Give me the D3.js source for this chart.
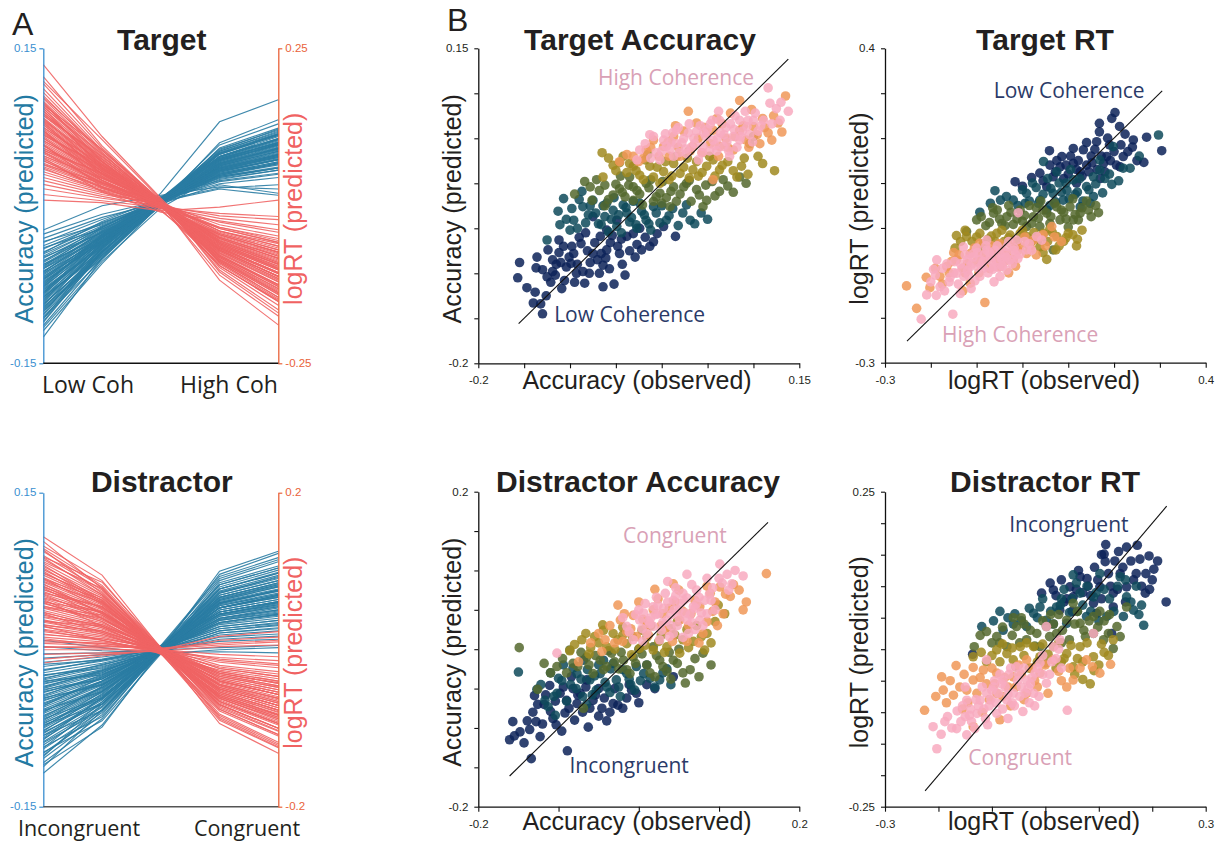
<!DOCTYPE html>
<html><head><meta charset="utf-8">
<script src="https://cdn.jsdelivr.net/npm/d3@7"></script>
<style>body{margin:0;background:#fff}svg{display:block}</style>
</head><body>
<svg id="fig" width="1222" height="842"></svg>
<script>
// ---------- Panel A: per-participant predicted effects across 5 levels ----------
const targetConds = ["Low Coh", "High Coh"];
const distractorConds = ["Incongruent", "Congruent"];
const tgtAccRange = [-0.15, 0.15];
const tgtRtRange = [-0.25, 0.25];
const disAccRange = [-0.15, 0.15];
const disRtRange = [-0.2, 0.2];

const tgtAccLines = [
[-.125,-.050,.004,.058,.078],[-.119,-.055,.002,.047,.066],[-.114,-.049,.006,.052,.070],[-.111,-.044,.005,.040,.055],
[-.108,-.040,.012,.080,.101],[-.106,-.047,.003,.049,.067],[-.104,-.045,.007,.044,.061],[-.101,-.043,.004,.054,.072],
[-.099,-.046,.002,.038,.052],[-.097,-.041,.006,.047,.064],[-.095,-.036,.002,.020,.012],[-.094,-.044,.005,.051,.069],
[-.092,-.040,.003,.042,.058],[-.091,-.038,.007,.046,.063],[-.089,-.041,.004,.036,.049],[-.088,-.035,.005,.049,.067],
[-.086,-.039,.003,.040,.055],[-.085,-.033,.004,.016,.010],[-.084,-.037,.006,.044,.060],[-.082,-.036,.002,.038,.052],
[-.081,-.034,.005,.047,.064],[-.079,-.038,.004,.041,.057],[-.078,-.032,.006,.035,.048],[-.077,-.035,.003,.043,.059],
[-.075,-.033,.005,.039,.053],[-.074,-.031,.004,.045,.062],[-.072,-.034,.006,.033,.045],[-.071,-.030,.003,.040,.055],
[-.069,-.032,.005,.037,.050],[-.068,-.029,.004,.043,.059],[-.066,-.031,.006,.031,.042],[-.065,-.028,.002,.038,.052],
[-.063,-.027,.005,.034,.046],[-.062,-.030,.004,.041,.056],[-.060,-.026,.006,.029,.039],[-.059,-.025,.003,.036,.049],
[-.057,-.027,.005,.032,.044],[-.056,-.024,.004,.039,.054],[-.054,-.023,.006,.027,.036],[-.052,-.025,.003,.034,.047],
[-.050,-.022,.005,.030,.041],[-.048,-.020,.004,.037,.051],[-.046,-.021,.006,.026,.034],[-.044,-.019,.003,.032,.044],
[-.041,-.017,.005,.023,.030],[-.038,-.016,.004,.029,.040],[-.035,-.013,.006,.021,.027],[-.031,-.011,.003,.025,.034],
[-.027,-.008,.005,.017,.020],[-.023,.000,.010,.018,.016],[-.116,-.053,-.002,.030,.040],[-.100,-.048,.001,.055,.074],
[-.083,-.030,.008,.028,.036],[-.070,-.036,.002,.050,.068],[-.058,-.021,.008,.045,.060],[-.093,-.047,.000,.033,.044],
[-.076,-.027,.009,.024,.031],[-.064,-.033,.001,.052,.071],[-.110,-.042,.007,.035,.047],[-.087,-.043,.001,.060,.082],
[-.107,-.051,.003,.045,.060],[-.103,-.039,.006,.036,.048],[-.098,-.044,.004,.050,.068],[-.096,-.050,.001,.043,.058],
[-.090,-.037,.007,.053,.073],[-.087,-.045,.003,.034,.046],[-.083,-.036,.005,.046,.063],[-.080,-.040,.002,.040,.054],
[-.077,-.029,.007,.050,.068],[-.073,-.033,.003,.030,.041],[-.070,-.028,.006,.044,.060],[-.067,-.035,.002,.036,.049],
[-.063,-.024,.007,.047,.064],[-.060,-.030,.003,.028,.037],[-.056,-.029,.004,.042,.058],[-.053,-.020,.006,.035,.047],
[-.049,-.026,.002,.031,.042],[-.045,-.015,.007,.040,.055],[-.040,-.022,.003,.027,.036],[-.034,-.018,.004,.033,.044]
];
const tgtRtLines = [
[.224,.110,.012,-.080,-.125],[.205,.095,.006,-.070,-.112],[.194,.092,.004,-.095,-.150],[.186,.088,.008,-.060,-.098],
[.180,.085,.002,-.110,-.175],[.175,.083,.005,-.075,-.120],[.170,.080,.001,-.088,-.140],[.166,.078,.007,-.055,-.088],
[.162,.076,.003,-.082,-.131],[.158,.074,.004,-.118,-.189],[.154,.072,-.002,-.068,-.108],[.150,.070,.006,-.090,-.145],
[.147,.069,.002,-.062,-.100],[.144,.067,.005,-.078,-.126],[.140,.066,.001,-.050,-.080],[.137,.064,.004,-.085,-.136],
[.134,.062,.003,-.070,-.112],[.131,.061,.006,-.058,-.093],[.128,.060,-.001,-.095,-.152],[.125,.058,.003,-.066,-.106],
[.122,.057,.005,-.074,-.118],[.119,.055,.000,-.048,-.076],[.116,.054,.004,-.080,-.128],[.113,.052,.002,-.060,-.096],
[.110,.051,.006,-.070,-.112],[.107,.050,-.002,-.054,-.086],[.104,.048,.003,-.088,-.141],[.101,.047,.001,-.064,-.102],
[.098,.045,.005,-.044,-.070],[.095,.044,.002,-.076,-.121],[.092,.043,.004,-.058,-.092],[.089,.041,-.001,-.068,-.108],
[.086,.040,.003,-.040,-.064],[.083,.038,.001,-.062,-.099],[.080,.037,.005,-.052,-.083],[.077,.036,.002,-.072,-.115],
[.074,.034,-.003,-.046,-.073],[.071,.033,.004,-.056,-.090],[.068,.031,.000,-.036,-.058],[.065,.030,.003,-.064,-.102],
[.062,.029,-.002,-.042,-.067],[.058,.027,.002,-.050,-.080],[.054,.025,.004,-.030,-.048],[.050,.023,-.004,-.044,-.070],
[.045,.021,.001,-.026,-.042],[.040,.018,.003,-.036,-.058],[.034,.015,-.002,-.020,-.030],[.027,.012,.000,-.016,-.022],
[.018,.008,-.003,-.012,-.017],[.009,.005,-.008,-.002,.009],[.198,.105,.010,-.098,-.158],[.160,.090,.009,-.102,-.165],
[.143,.078,.007,-.040,-.060],[.120,.040,-.006,-.092,-.148],[.097,.030,-.008,-.082,-.132],[.133,.050,-.004,-.034,-.052],
[.155,.060,.000,-.050,-.078],[.088,.052,.008,-.086,-.138],[.112,.064,.010,-.105,-.170],[.076,.022,-.010,-.024,-.038],
[.172,.088,.004,-.072,-.116],[.164,.070,.001,-.090,-.145],[.157,.082,.006,-.060,-.096],[.151,.064,.000,-.080,-.128],
[.146,.074,.005,-.095,-.152],[.139,.058,.002,-.066,-.106],[.135,.070,.006,-.084,-.134],[.129,.054,.000,-.056,-.090],
[.124,.066,.004,-.078,-.125],[.118,.050,.001,-.062,-.100],[.114,.060,.005,-.086,-.138],[.108,.046,-.001,-.052,-.084],
[.103,.056,.004,-.070,-.112],[.096,.040,.000,-.046,-.074],[.091,.050,.003,-.066,-.106],[.085,.036,-.002,-.058,-.093],
[.079,.044,.004,-.040,-.064],[.072,.028,.001,-.052,-.083],[.066,.036,.003,-.034,-.055],[.060,.024,-.001,-.046,-.074]
];
const disAccLines = [
[-.118,-.072,-.002,.060,.076],[-.110,-.074,.000,.072,.092],[-.104,-.062,.002,.050,.064],[-.099,-.060,-.003,.058,.073],
[-.095,-.058,.001,.045,.057],[-.091,-.055,-.001,.066,.084],[-.088,-.054,.002,.052,.066],[-.085,-.052,-.002,.040,.050],
[-.082,-.050,.000,.056,.071],[-.080,-.048,.003,.047,.060],[-.077,-.047,-.001,.034,.043],[-.075,-.045,.001,.052,.066],
[-.073,-.044,-.003,.043,.054],[-.071,-.043,.002,.058,.073],[-.069,-.041,.000,.038,.048],[-.067,-.040,-.002,.049,.062],
[-.065,-.039,.001,.030,.038],[-.063,-.038,.003,.045,.057],[-.061,-.037,-.001,.054,.068],[-.059,-.036,.000,.036,.045],
[-.057,-.034,.002,.042,.053],[-.055,-.033,-.002,.026,.033],[-.053,-.032,.001,.047,.060],[-.051,-.031,.000,.033,.042],
[-.049,-.030,-.003,.040,.051],[-.047,-.028,.002,.022,.028],[-.045,-.027,.000,.036,.046],[-.043,-.026,-.001,.044,.056],
[-.041,-.025,.001,.029,.037],[-.039,-.023,-.002,.038,.048],[-.037,-.022,.002,.020,.025],[-.035,-.021,.000,.032,.041],
[-.033,-.020,-.001,.025,.032],[-.031,-.019,.001,.036,.046],[-.029,-.017,.000,.018,.023],[-.027,-.016,-.002,.028,.035],
[-.025,-.015,.001,.014,.018],[-.022,-.013,.000,.024,.030],[-.019,-.011,-.001,.010,.013],[-.016,-.009,.001,.020,.026],
[-.012,-.007,.000,.008,.010],[-.008,-.005,-.002,.012,.015],[-.004,-.003,.000,.002,.004],[.003,-.001,-.003,-.002,-.003],
[.009,.002,-.004,.000,.002],[-.112,-.058,.003,.040,.052],[-.098,-.068,-.004,.064,.080],[-.086,-.046,.004,.070,.088],
[-.072,-.052,-.003,.030,.040],[-.060,-.030,.003,.062,.078],[-.093,-.064,-.001,.075,.094],[-.078,-.042,.002,.026,.034],
[-.066,-.046,-.002,.054,.070],[-.054,-.026,.002,.050,.064],[-.046,-.034,-.003,.016,.021],[-.038,-.028,.001,.046,.058],
[-.102,-.052,.004,.034,.045],[-.082,-.058,-.003,.044,.056],[-.030,-.024,-.001,.040,.052],[-.068,-.035,.003,.068,.086],
[-.108,-.066,.001,.048,.061],[-.101,-.057,-.002,.062,.078],[-.094,-.050,.002,.040,.052],[-.089,-.058,-.001,.055,.069],
[-.084,-.046,.003,.036,.046],[-.079,-.052,-.002,.050,.063],[-.074,-.040,.001,.044,.057],[-.070,-.047,-.003,.032,.041],
[-.064,-.036,.002,.058,.074],[-.058,-.040,-.001,.040,.050],[-.052,-.030,.001,.048,.062],[-.048,-.033,-.002,.028,.036],
[-.044,-.024,.002,.042,.053],[-.040,-.028,.000,.034,.044],[-.036,-.020,-.001,.030,.038],[-.032,-.022,.001,.022,.028],
[-.028,-.014,-.002,.034,.043],[-.024,-.018,.000,.018,.024],[-.020,-.010,.001,.026,.034],[-.014,-.010,-.001,.016,.020]
];
const disRtLines = [
[.144,.095,.002,-.070,-.100],[.132,.088,.000,-.082,-.118],[.125,.080,-.003,-.060,-.086],[.120,.076,.001,-.094,-.132],
[.115,.074,-.002,-.066,-.094],[.110,.070,.003,-.052,-.074],[.106,.068,-.004,-.076,-.108],[.102,.066,.000,-.058,-.083],
[.098,.063,-.001,-.070,-.100],[.095,.061,.002,-.046,-.066],[.092,.059,-.003,-.064,-.092],[.089,.057,.000,-.054,-.077],
[.086,.055,-.002,-.072,-.103],[.083,.053,.001,-.040,-.057],[.080,.051,-.004,-.060,-.086],[.077,.049,.000,-.050,-.071],
[.074,.048,-.001,-.066,-.094],[.071,.046,.002,-.036,-.051],[.068,.044,-.003,-.056,-.080],[.065,.042,.000,-.045,-.064],
[.062,.040,-.002,-.062,-.088],[.059,.038,.001,-.032,-.046],[.056,.036,-.004,-.050,-.071],[.053,.034,.000,-.040,-.057],
[.050,.032,-.001,-.058,-.083],[.047,.030,.002,-.028,-.040],[.044,.028,-.003,-.046,-.066],[.041,.026,.000,-.036,-.051],
[.038,.024,-.002,-.052,-.074],[.035,.022,.001,-.024,-.034],[.032,.020,-.004,-.042,-.060],[.029,.018,.000,-.032,-.046],
[.026,.016,-.001,-.048,-.068],[.023,.014,.002,-.020,-.028],[.020,.012,-.003,-.038,-.054],[.016,.010,.000,-.028,-.040],
[.012,.008,-.002,-.016,-.023],[.008,.005,.001,-.024,-.034],[.004,.002,-.003,-.010,-.014],[.000,.000,.000,-.006,-.009],
[-.006,-.004,-.002,.004,.006],[-.012,-.006,-.001,.012,.016],[-.017,-.008,.000,.017,.023],[.003,.004,.002,.008,.012],
[.010,.008,.001,.006,.010],[.138,.078,-.004,-.090,-.125],[.118,.086,.003,-.044,-.062],[.100,.058,-.005,-.084,-.120],
[.090,.064,.002,-.030,-.042],[.079,.040,-.005,-.078,-.110],[.072,.055,.003,-.068,-.096],[.064,.030,-.006,-.026,-.037],
[.055,.044,.002,-.062,-.090],[.046,.022,-.004,-.056,-.079],[.036,.030,.001,-.014,-.020],[.108,.062,-.002,-.038,-.054],
[.084,.046,.000,-.088,-.124],[.061,.048,.003,-.070,-.100],[.127,.072,-.001,-.048,-.068],[.030,.012,-.005,-.060,-.084],
[.129,.082,.001,-.074,-.104],[.117,.070,-.003,-.058,-.082],[.112,.078,.002,-.086,-.122],[.104,.060,-.001,-.050,-.071],
[.097,.066,.002,-.076,-.108],[.091,.052,-.003,-.044,-.062],[.087,.060,.001,-.066,-.094],[.081,.046,-.002,-.054,-.077],
[.076,.054,.002,-.040,-.057],[.070,.040,-.001,-.062,-.088],[.066,.048,.001,-.034,-.048],[.060,.036,-.003,-.050,-.071],
[.054,.040,.002,-.044,-.062],[.048,.028,-.001,-.030,-.043],[.042,.032,.001,-.054,-.077],[.037,.020,-.002,-.022,-.031],
[.031,.024,.000,-.040,-.057],[.025,.012,-.002,-.030,-.043],[.019,.014,.001,-.012,-.018],[.014,.006,-.001,-.034,-.048]
];

// ---------- Panel B: observed vs predicted, one array per condition level ([observed, predicted]) ----------
const taTicksX = [-0.2,-0.15,-0.1,-0.05,0,0.05,0.1,0.15];
const taTicksY = [-0.2,-0.15,-0.1,-0.05,0,0.05,0.1,0.15];
const trTicksX = [-0.3,-0.2,-0.1,0,0.1,0.2,0.3,0.4];
const trTicksY = [-0.3,-0.2,-0.1,0,0.1,0.2,0.3,0.4];
const daTicksX = [-0.2,-0.1,0,0.1,0.2];
const daTicksY = [-0.2,-0.15,-0.1,-0.05,0,0.05,0.1,0.15,0.2];
const drTicksX = [-0.3,-0.2,-0.1,0,0.1,0.2,0.3];
const drTicksY = [-0.25,-0.2,-0.15,-0.1,-0.05,0,0.05,0.1,0.15,0.2,0.25];

const taL1 = [[-.157,-.105],[-.155,-.088],[-.147,-.116],[-.138,-.121],[-.140,-.133],[-.132,-.134],[-.130,-.145],[-.126,-.125],[-.137,-.094],[-.136,-.082],[-.125,-.104],[-.124,-.074],[-.119,-.085],[-.116,-.102],[-.109,-.117],[-.107,-.070],[-.104,-.093],[-.096,-.078],[-.093,-.100],[-.084,-.111],[-.079,-.100],[-.075,-.078],[-.067,-.059],[-.064,-.091],[-.064,-.115],[-.052,-.112],[-.060,-.074],[-.046,-.078],[-.038,-.059],[-.031,-.056],[-.022,-.074],[-.009,-.065],[-.005,-.056],[.015,-.059],[-.049,-.041],[-.075,-.037],[-.112,-.063],[-.099,-.089],[-.088,-.067],[-.070,-.085],[-.056,-.066],[-.043,-.090],[-.027,-.068],[-.018,-.060],[-.130,-.096],
[-.121,-.110],[-.115,-.090],[-.112,-.077],[-.106,-.108],[-.101,-.082],[-.098,-.070],[-.092,-.090],[-.090,-.060],[-.086,-.098],[-.081,-.075],[-.078,-.088],[-.073,-.066],[-.068,-.100],[-.066,-.078],[-.061,-.083],[-.057,-.095],[-.054,-.058],[-.048,-.070],[-.044,-.062],[-.040,-.102],[-.035,-.075],[-.029,-.082],[-.024,-.050],[-.013,-.070],[.002,-.048],[-.095,-.110],[-.119,-.098],[-.083,-.055],[-.110,-.088],[-.060,-.052]];
const taL2 = [[-.111,-.046],[-.107,-.017],[-.113,-.031],[-.086,-.026],[-.075,-.019],[-.062,-.037],[-.053,-.030],[-.038,-.033],[-.031,-.020],[-.017,-.041],[-.009,-.026],[-.002,-.044],[.005,-.041],[.023,-.033],[.043,-.033],[.031,-.041],[-.049,-.048],[-.027,-.050],[-.125,-.063],[-.096,-.041],[-.087,-.009],[-.069,-.045],[-.058,-.054],[-.042,-.024],[-.022,-.031],[.012,-.028],[-.100,-.052],[-.080,-.035],[-.035,-.043],[-.012,-.052],[.018,-.047],[-.064,-.025],
[-.104,-.040],[-.098,-.028],[-.092,-.050],[-.083,-.044],[-.078,-.025],[-.072,-.033],[-.066,-.046],[-.060,-.022],[-.055,-.040],[-.047,-.035],[-.044,-.055],[-.039,-.027],[-.033,-.038],[-.028,-.046],[-.024,-.022],[-.019,-.035],[-.014,-.045],[-.006,-.033],[.000,-.025],[.008,-.036],[.027,-.024],[.036,-.045],[-.090,-.018],[-.052,-.016],[.050,-.040]];
const taL3 = [[-.084,.002],[-.076,-.019],[-.062,-.002],[-.046,-.006],[-.031,-.004],[-.017,.000],[-.002,-.011],[.013,-.004],[.027,.000],[.038,-.007],[.049,-.019],[.063,-.009],[.045,-.026],[.009,-.026],[-.009,-.020],[-.031,-.019],[-.053,-.013],[.085,.007],[-.035,.007],[-.068,-.008],[-.024,-.012],[.005,-.016],[.020,-.012],[.055,.002],[.072,-.003],[-.040,-.015],[.032,-.020],[-.012,.004],[-.095,-.012],
[-.078,-.004],[-.071,.004],[-.058,-.018],[-.050,-.001],[-.043,-.010],[-.036,-.002],[-.027,-.008],[-.021,-.024],[-.014,-.005],[-.006,-.015],[.001,.002],[.010,-.009],[.016,-.020],[.024,-.004],[.030,.003],[.041,-.013],[.048,-.002],[.058,-.014],[.067,.004],[.078,-.010],[-.062,-.025],[.000,-.022],[-.045,.008],[.092,.000]];
const taL4 = [[-.065,.034],[-.053,.020],[-.046,.023],[-.064,.007],[-.031,.019],[-.024,.009],[-.009,.007],[.002,.013],[.020,.011],[.034,.015],[.049,.019],[.063,.015],[.082,.007],[.087,.019],[.123,.014],[.096,.044],[.100,.052],[.013,.022],[-.013,.019],[.056,.026],[-.038,.012],[.008,.004],[.040,.008],[.072,.024],[-.018,.026],[.028,.028],[.105,.030],
[-.058,.028],[-.050,.014],[-.042,.030],[-.035,.022],[-.028,.014],[-.020,.004],[-.015,.032],[-.005,.018],[.004,.024],[.011,.008],[.016,.030],[.024,.018],[.030,.006],[.038,.024],[.044,.012],[.052,.030],[.058,.008],[.066,.020],[.078,.014],[.090,.028],[.094,.010],[.110,.022],[-.002,.000],[.030,.036]];
const taL5 = [[-.046,.024],[-.031,.030],[-.017,.037],[-.009,.048],[.002,.041],[.013,.052],[.029,.080],[.038,.067],[.049,.056],[.056,.059],[.063,.041],[.078,.037],[.085,.092],[.085,.059],[.100,.063],[.107,.044],[.116,.056],[.127,.067],[.135,.097],[.056,.004],[.131,.057],[.020,.030],[.034,.041],[.070,.050],[.092,.048],[.044,.034],[-.025,.024],[.008,.030],[.060,.072],[.110,.072],
[-.038,.032],[-.020,.028],[-.012,.040],[-.003,.030],[.007,.046],[.018,.040],[.024,.058],[.031,.036],[.040,.050],[.047,.062],[.053,.044],[.066,.066],[.072,.040],[.080,.052],[.089,.064],[.095,.040],[.104,.054],[.112,.062],[.120,.048],[.122,.075],[.062,.030],[.015,.064],[.098,.082],[.075,.078]];
const taL6 = [[.116,.106],[.138,.080],[.129,.070],[.091,.080],[.085,.070],[.063,.070],[.029,.056],[.016,.059],[-.009,.052],[-.013,.054],[.005,.041],[.013,.030],[.027,.033],[.045,.041],[.056,.048],[.067,.041],[.078,.052],[.093,.063],[.100,.070],[.111,.070],[.040,.026],[-.002,.026],[-.027,.026],[-.024,.037],[.074,.030],[.118,.089],[.035,.050],[.050,.060],[.022,.045],[.060,.036],[.085,.048],[.105,.058],[.070,.062],[.000,.036],[.042,.064],[.125,.083],
[-.018,.044],[-.006,.034],[.002,.048],[.009,.038],[.012,.056],[.019,.034],[.024,.050],[.032,.040],[.038,.058],[.044,.034],[.048,.052],[.053,.066],[.058,.042],[.064,.056],[.071,.046],[.075,.066],[.082,.040],[.088,.058],[.096,.054],[.102,.078],[.108,.064],[.120,.066],[.130,.090],[.080,.075],[.030,.066],[.062,.080],[-.012,.028],[.016,.044],
[.004,.055],[.018,.062],[.026,.038],[.036,.044],[.046,.056],[.052,.036],[.061,.050],[.068,.054],[.073,.036],[.079,.060],[.086,.052],[.094,.070],[.099,.046],[.010,.046],[.055,.070]];

const trL1 = [[.202,.257],[.195,.244],[.168,.233],[.168,.214],[.212,.226],[.224,.209],[.242,.196],[.271,.202],[.304,.172],[.265,.146],[.162,.192],[.133,.174],[.111,.177],[.086,.159],[.059,.172],[.111,.144],[.126,.125],[.067,.114],[.038,.122],[.020,.112],[.000,.093],[-.016,.103],[.184,.159],[.220,.159],[.177,.144],[.082,.136],[.053,.092],[.213,.136],[.150,.160],[.100,.120],[.140,.140],[.240,.180],[.190,.185],[.075,.150],
[.072,.125],[.090,.110],[.095,.140],[.105,.160],[.118,.130],[.122,.150],[.130,.115],[.145,.125],[.152,.145],[.158,.175],[.163,.130],[.172,.160],[.180,.125],[.186,.200],[.192,.150],[.200,.170],[.205,.140],[.230,.170],[.250,.150],[.060,.140],[.045,.105],[.140,.190],[.215,.185],[.118,.100],[.170,.110]];
const trL2 = [[-.060,.083],[-.048,.062],[-.093,.035],[-.020,.062],[.009,.077],[.038,.062],[.067,.077],[.097,.084],[.111,.107],[.140,.092],[.155,.114],[.169,.129],[.195,.097],[.220,.133],[.235,.133],[.148,.055],[.126,.047],[.089,.062],[.053,.040],[.006,.055],[.046,.148],[.198,.181],[.169,.151],[.297,.207],[.080,.100],[.120,.080],[.030,.090],[.180,.110],[.255,.160],[.060,.050],
[-.035,.070],[-.010,.050],[.000,.085],[.015,.060],[.022,.100],[.045,.075],[.055,.110],[.062,.088],[.072,.058],[.085,.080],[.095,.100],[.102,.065],[.115,.075],[.125,.110],[.132,.060],[.145,.085],[.160,.098],[.175,.078],[.190,.120],[.210,.105],[.035,.055],[.105,.130],[.075,.125],[.155,.070],[-.070,.055]];
const trL3 = [[-.100,.018],[-.063,.033],[-.034,.025],[-.005,.040],[.024,.025],[.053,.033],[.082,.018],[.111,.018],[.126,.033],[.144,.040],[.166,.034],[.038,.003],[.009,.003],[.075,.047],[.104,.047],[.122,.018],[-.122,-.008],[.067,-.049],[-.080,.005],[-.045,.010],[.000,.015],[.030,.045],[.090,.035],[.060,.010],[.140,.060],[-.020,.008],[.100,.002],
[-.090,.025],[-.072,.012],[-.055,.040],[-.050,.020],[-.038,.005],[-.025,.035],[-.012,.020],[.005,.028],[.015,.050],[.020,.010],[.035,.022],[.045,.040],[.062,.025],[.070,.055],[.085,.040],[.095,.020],[.115,.030],[.130,.045],[.150,.025],[.040,.060],[-.030,.050],[.110,.065],[-.065,.045],[.160,.050]];
const trL4 = [[-.144,-.017],[-.122,-.019],[-.147,-.045],[-.093,-.012],[-.056,-.012],[-.027,-.016],[.009,-.019],[.046,-.012],[.075,-.019],[.100,-.012],[.118,-.040],[.053,-.070],[.073,-.049],[.038,-.042],[-.020,-.042],[-.063,-.057],[-.110,-.030],[-.040,-.030],[.020,-.030],[.090,-.030],[-.075,-.025],[.000,-.005],[.060,-.002],[.130,-.005],
[-.135,-.030],[-.125,-.005],[-.100,-.020],[-.085,-.035],[-.068,-.018],[-.050,-.040],[-.045,-.005],[-.030,-.022],[-.012,-.030],[-.005,-.012],[.015,-.040],[.025,-.010],[.035,-.025],[.055,-.030],[.065,-.010],[.080,-.040],[.095,-.022],[.110,-.015],[-.090,-.050],[.045,-.055],[-.060,-.030],[.120,-.025]];
const trL5 = [[-.253,-.129],[-.231,-.179],[-.202,-.133],[-.165,-.086],[-.144,-.071],[-.114,-.057],[-.082,-.166],[-.093,-.034],[-.063,-.049],[-.034,-.057],[-.005,-.042],[.024,-.027],[.038,-.019],[.064,.003],[.009,-.057],[-.049,-.086],[-.114,-.123],[-.020,-.071],[-.180,-.108],[-.078,-.071],[-.130,-.090],[-.100,-.075],[-.050,-.035],[.010,-.035],[.050,-.040],[-.150,-.055],[.085,-.030],[-.030,-.100],
[-.190,-.090],[-.175,-.125],[-.160,-.100],[-.155,-.075],[-.138,-.060],[-.125,-.100],[-.120,-.080],[-.105,-.045],[-.095,-.100],[-.088,-.060],[-.072,-.090],[-.068,-.040],[-.058,-.070],[-.045,-.050],[-.040,-.075],[-.025,-.035],[-.015,-.085],[-.010,-.050],[.005,-.020],[.018,-.045],[.030,-.060],[.045,-.015],[-.210,-.110],[.070,-.020],[-.130,-.140]];
const trL6 = [[-.221,-.203],[-.209,-.149],[-.187,-.071],[-.194,-.092],[-.180,-.131],[-.152,-.192],[-.136,-.146],[-.114,-.086],[-.107,-.057],[-.093,-.071],[-.078,-.049],[-.063,-.086],[-.049,-.057],[-.034,-.042],[-.027,-.071],[-.013,-.027],[-.009,.034],[.009,-.049],[.031,-.019],[.042,-.027],[-.129,-.042],[-.144,-.101],[-.093,-.108],[-.049,-.108],[-.078,-.027],[-.034,-.094],[-.160,-.120],[-.120,-.070],[-.070,-.065],[-.100,-.045],[-.055,-.040],[-.015,-.060],[.015,-.035],[-.085,-.090],[-.165,-.080],[-.040,-.075],
[-.200,-.120],[-.190,-.105],[-.175,-.090],[-.170,-.140],[-.158,-.110],[-.148,-.075],[-.140,-.125],[-.132,-.090],[-.125,-.060],[-.118,-.105],[-.110,-.080],[-.104,-.118],[-.098,-.055],[-.090,-.085],[-.083,-.060],[-.075,-.100],[-.068,-.075],[-.060,-.050],[-.052,-.088],[-.046,-.068],[-.038,-.055],[-.030,-.030],[-.022,-.080],[-.018,-.045],[-.005,-.058],[.005,-.030],[.020,-.050],[-.112,-.135],[-.188,-.150],[-.062,-.120],
[-.150,-.100],[-.135,-.080],[-.120,-.095],[-.108,-.065],[-.096,-.090],[-.086,-.075],[-.072,-.055],[-.065,-.092],[-.056,-.070],[-.044,-.085],[-.035,-.065],[-.020,-.050],[-.010,-.068],[-.128,-.108],[-.080,-.040]];

const daL1 = [[-.161,-.115],[-.155,-.110],[-.157,-.092],[-.143,-.119],[-.134,-.139],[-.139,-.091],[-.128,-.092],[-.130,-.059],[-.123,-.111],[-.111,-.046],[-.110,-.079],[-.103,-.096],[-.089,-.129],[-.092,-.081],[-.090,-.065],[-.084,-.035],[-.073,-.056],[-.063,-.099],[-.057,-.065],[-.046,-.075],[-.040,-.091],[-.032,-.069],[-.026,-.071],[-.009,-.052],[-.003,-.056],[.043,-.035],[-.065,-.039],[-.077,-.069],[-.098,-.056],[-.118,-.070],[-.050,-.050],[-.015,-.062],[.010,-.045],[-.082,-.050],
[-.136,-.102],[-.132,-.080],[-.126,-.070],[-.120,-.095],[-.116,-.058],[-.107,-.088],[-.104,-.066],[-.096,-.104],[-.094,-.048],[-.087,-.075],[-.080,-.090],[-.076,-.058],[-.070,-.080],[-.066,-.048],[-.061,-.075],[-.054,-.058],[-.050,-.085],[-.043,-.062],[-.036,-.080],[-.030,-.050],[-.020,-.075],[-.012,-.045],[.000,-.068],[.020,-.050],[-.148,-.105]];
const daL2 = [[-.150,-.029],[-.127,-.051],[-.117,-.065],[-.113,-.073],[-.104,-.084],[-.100,-.037],[-.094,-.020],[-.077,-.031],[-.069,-.014],[-.061,-.039],[-.048,-.031],[-.040,-.048],[-.028,-.039],[-.015,-.031],[-.003,-.022],[.014,-.037],[.026,-.039],[-.053,-.052],[-.102,-.056],[-.023,-.060],[.006,-.031],[-.044,-.014],[-.085,-.045],[-.035,-.025],[.035,-.025],[-.010,-.045],[-.070,-.060],[.040,-.045],
[-.122,-.045],[-.110,-.030],[-.106,-.060],[-.096,-.040],[-.090,-.066],[-.082,-.024],[-.078,-.050],[-.072,-.038],[-.064,-.026],[-.058,-.058],[-.055,-.034],[-.050,-.020],[-.042,-.042],[-.036,-.055],[-.032,-.018],[-.025,-.048],[-.020,-.026],[-.012,-.038],[-.005,-.052],[.002,-.040],[.010,-.020],[.020,-.048],[.030,-.030],[-.065,-.070]];
const daL3 = [[-.149,.002],[-.126,-.051],[-.102,-.022],[-.082,-.018],[-.065,-.010],[-.048,-.014],[-.034,-.005],[-.019,-.014],[-.007,-.010],[.010,-.020],[.026,-.014],[.043,-.014],[.058,-.043],[.064,-.026],[.080,-.005],[.018,.003],[-.011,-.031],[-.057,-.031],[-.069,-.075],[-.086,-.001],[-.025,-.025],[.000,.000],[.035,-.028],[-.040,-.022],[.050,.000],[-.110,-.030],[.020,-.035],
[-.095,-.012],[-.090,-.030],[-.076,-.022],[-.072,-.004],[-.062,-.020],[-.054,-.008],[-.044,-.026],[-.038,-.002],[-.030,-.016],[-.022,-.004],[-.015,-.026],[-.004,-.018],[.004,-.006],[.014,-.030],[.022,-.008],[.030,-.022],[.038,-.004],[.048,-.018],[.055,-.030],[.070,-.012],[.075,-.035],[-.118,-.018],[.040,-.038],[.090,-.020]];
const daL4 = [[-.086,-.002],[-.071,.012],[-.045,.031],[-.055,.016],[-.032,.020],[-.015,.007],[.001,.001],[.018,-.001],[.035,.003],[.051,-.005],[.068,.010],[.082,-.001],[.085,.020],[.099,.056],[.107,.045],[-.009,-.007],[-.040,.003],[.010,.015],[.045,.018],[-.060,.002],[.060,.025],[-.020,.018],[.025,.010],
[-.080,.006],[-.066,.020],[-.050,.008],[-.044,.024],[-.026,.012],[-.020,.028],[-.008,.016],[.004,.024],[.008,.005],[.015,.030],[.028,.018],[.032,-.004],[.040,.026],[.055,.012],[.062,.002],[.072,.030],[.078,.016],[.090,.008],[.095,.035],[-.030,.000],[.048,.035],[-.062,-.006]];
const daL5 = [[-.075,-.016],[-.046,-.003],[-.026,.056],[-.023,.037],[-.007,.043],[.020,.076],[.043,.083],[.018,.050],[.035,.024],[.051,.037],[.060,.010],[.076,.054],[.089,.071],[.101,.079],[.114,.067],[.118,.082],[.134,.060],[.159,.096],[.105,.045],[-.003,.016],[-.042,.012],[.010,.030],[.030,.045],[.065,.045],[.085,.035],[-.015,.022],[.045,.060],[.095,.060],[-.060,.008],
[-.050,.020],[-.036,.030],[-.030,.008],[-.018,.045],[-.010,.026],[.000,.060],[.005,.038],[.012,.018],[.024,.064],[.028,.030],[.038,.052],[.042,.010],[.050,.075],[.055,.048],[.062,.030],[.070,.062],[.080,.020],[.085,.080],[.092,.048],[.098,.030],[.108,.070],[.125,.075],[.130,.050],[-.020,.010],[.075,.008]];
const daL6 = [[-.102,-.005],[-.015,.029],[.001,.037],[.018,.029],[.035,.037],[.043,.062],[.055,.071],[.068,.054],[.076,.037],[.085,.090],[.101,.108],[.104,.084],[.116,.083],[.130,.093],[.072,.075],[.018,.054],[.010,.020],[.026,.012],[.043,.020],[-.007,.012],[.060,.037],[.033,.071],[.085,.045],[.025,.045],[.050,.050],[.000,.050],[.060,.065],[.040,.030],[.090,.062],[.015,.040],[.070,.025],[-.020,.040],[.110,.095],[.055,.015],
[-.012,.022],[-.004,.044],[.004,.026],[.008,.058],[.014,.032],[.021,.044],[.022,.066],[.028,.024],[.031,.052],[.038,.016],[.040,.044],[.046,.078],[.048,.030],[.052,.058],[.058,.046],[.062,.020],[.066,.082],[.070,.052],[.075,.066],[.080,.030],[.088,.070],[.095,.050],[.100,.090],[.112,.075],[.120,.100],[.036,.086],[.005,.010],[.060,.095],
[.012,.036],[.024,.056],[.030,.034],[.036,.060],[.044,.050],[.050,.040],[.056,.062],[.064,.044],[.072,.058],[.078,.046],[.082,.062],[.092,.078],[.006,.046],[.046,.068],[.066,.034]];

const drL1 = [[.113,.166],[.110,.151],[.112,.139],[.137,.155],[.152,.162],[.177,.143],[.194,.148],[.188,.120],[.203,.127],[.195,.095],[.187,.089],[.226,.075],[.127,.089],[.102,.099],[.046,.099],[.015,.094],[-.007,.089],[.052,.083],[.090,.073],[.127,.067],[.152,.099],[-.136,-.008],[.009,.105],[.065,.115],[.096,.057],[.124,.025],[.027,.062],[.080,.100],[.140,.120],[.165,.110],[.035,.075],
[.020,.085],[.030,.110],[.040,.080],[.058,.095],[.062,.125],[.070,.090],[.078,.112],[.085,.085],[.092,.130],[.098,.110],[.105,.080],[.118,.120],[.122,.100],[.130,.140],[.135,.095],[.145,.130],[.150,.075],[.160,.140],[.170,.120],[.180,.100],[.200,.110],[.210,.140],[.172,.165],[.105,.150],[.050,.060]];
const drL2 = [[-.119,.036],[-.097,.045],[-.079,.030],[-.057,.056],[-.022,.057],[.002,.046],[.021,.067],[.052,.118],[.065,.089],[.090,.083],[.102,.120],[.140,.115],[.152,.083],[.165,.062],[.180,.070],[.184,.038],[.115,.052],[.077,.052],[.040,.041],[-.035,.036],[.146,.052],[-.010,.067],[.030,.080],[.110,.095],[.060,.060],[.170,.100],[-.060,.040],
[-.070,.050],[-.045,.045],[-.030,.065],[-.015,.050],[-.005,.080],[.010,.060],[.015,.040],[.028,.070],[.035,.095],[.045,.058],[.050,.080],[.070,.070],[.078,.100],[.085,.060],[.095,.090],[.100,.045],[.120,.080],[.128,.060],[.135,.100],[.150,.110],[.160,.075],[.175,.055],[.058,.105],[-.085,.060]];
const drL3 = [[-.133,.004],[-.122,.022],[-.091,.020],[-.072,.004],[-.054,.036],[-.035,.015],[-.016,.025],[.002,.036],[.021,.025],[.040,.046],[.065,.041],[.090,.025],[.109,.015],[.127,.001],[.090,.052],[.052,.073],[.152,.067],[-.010,.004],[.134,.036],[-.100,.010],[.030,.010],[.075,.020],[.010,.055],[-.040,.040],[.110,.045],
[-.110,.028],[-.085,.010],[-.080,.035],[-.062,.022],[-.048,.010],[-.045,.050],[-.028,.030],[-.020,.005],[-.005,.045],[.008,.020],[.015,.040],[.025,.055],[.032,.030],[.045,.015],[.055,.040],[.060,.060],[.072,.030],[.082,.045],[.098,.035],[.102,.060],[.118,.025],[.120,.055],[.140,.020],[-.060,.050]];
const drL4 = [[-.135,-.012],[-.091,-.001],[-.072,-.007],[-.047,.004],[-.022,.004],[-.010,-.012],[.015,.004],[.040,-.007],[.065,.004],[.090,-.012],[.091,-.034],[.084,-.055],[.052,-.028],[.127,.015],[-.060,-.017],[.000,-.022],[-.030,-.030],[.030,-.020],[.110,-.005],[-.110,-.020],[.060,-.015],
[-.120,-.005],[-.100,-.010],[-.085,-.020],[-.080,.008],[-.062,.002],[-.055,-.028],[-.040,-.010],[-.035,.010],[-.015,-.020],[-.005,.008],[.005,-.008],[.020,-.030],[.025,.010],[.035,-.015],[.048,.006],[.055,-.040],[.070,-.020],[.078,.010],[.100,-.025],[.105,.008],[.070,-.048],[.118,-.010]];
const drL5 = [[-.226,-.097],[-.194,-.044],[-.191,-.065],[-.172,-.073],[-.167,-.026],[-.135,-.049],[-.116,-.033],[-.091,-.038],[-.135,-.029],[-.147,-.065],[-.085,-.112],[-.091,-.070],[-.060,-.044],[-.035,-.017],[-.010,-.038],[.015,-.017],[.040,-.060],[.052,-.049],[.077,-.017],[.102,-.038],[.122,-.024],[-.135,-.123],[-.035,-.070],[-.110,-.055],[-.070,-.060],[-.020,-.050],[.025,-.035],[.065,-.030],[-.155,-.095],[-.050,-.025],
[-.205,-.075],[-.185,-.085],[-.178,-.050],[-.160,-.060],[-.152,-.040],[-.145,-.085],[-.128,-.070],[-.122,-.045],[-.105,-.080],[-.100,-.030],[-.095,-.055],[-.080,-.075],[-.076,-.045],[-.065,-.090],[-.055,-.060],[-.045,-.040],[-.040,-.080],[-.025,-.030],[-.015,-.060],[.000,-.025],[.005,-.070],[.030,-.050],[.045,-.030],[.088,-.028],[-.118,-.100]];
const drL6 = [[-.203,-.158],[-.210,-.123],[-.183,-.107],[-.166,-.126],[-.147,-.136],[-.150,-.107],[-.132,-.126],[-.128,-.102],[-.110,-.070],[-.122,-.081],[-.097,-.060],[-.079,-.049],[-.060,-.070],[-.042,-.099],[-.035,-.049],[-.019,-.038],[-.010,-.022],[.002,.036],[.015,.004],[.027,.015],[.041,-.097],[-.147,-.081],[-.110,-.017],[-.072,-.081],[-.091,-.102],[-.054,-.028],[-.022,-.070],[.002,-.054],[.090,.025],[-.085,-.040],[-.045,-.060],[-.005,-.040],[.020,-.015],[-.065,-.030],[-.105,-.090],[-.030,-.085],
[-.195,-.135],[-.188,-.115],[-.175,-.125],[-.165,-.098],[-.158,-.115],[-.140,-.095],[-.138,-.115],[-.125,-.090],[-.118,-.060],[-.112,-.110],[-.102,-.080],[-.095,-.050],[-.088,-.070],[-.080,-.095],[-.075,-.060],[-.068,-.040],[-.062,-.085],[-.052,-.050],[-.048,-.075],[-.040,-.030],[-.032,-.062],[-.025,-.045],[-.012,-.075],[-.005,-.010],[.008,-.040],[.012,-.020],[.030,-.030],[.025,.000],[-.150,-.060],[-.070,-.110],
[-.155,-.090],[-.142,-.105],[-.130,-.080],[-.115,-.095],[-.100,-.065],[-.092,-.085],[-.082,-.055],[-.070,-.072],[-.058,-.090],[-.050,-.040],[-.038,-.070],[-.028,-.055],[-.015,-.030],[-.108,-.120],[-.020,-.090]];

// identity-line extents
const taIdentity = [-0.156, 0.138];
const trIdentity = [-0.252, 0.305];
const daIdentity = [-0.161, 0.161];
const drIdentity = [-0.225, 0.227];

// ---------- styling ----------
const HELV = "'Liberation Sans', Arial, Helvetica, sans-serif";
const HUM = "'Open Sans', 'Noto Sans', sans-serif";
const BLUE_LINE = "#2a7ca3", RED_LINE = "#f06464";
const BLUE_AXIS = "#3a8fd0", RED_AXIS = "#e9623a";
const BLUE_LABEL = "#237aa3", RED_LABEL = "#f06262";
const levelColors = ["#0c2258", "#0e4a5a", "#55692e", "#a08a20", "#f09858", "#f8aac0"];
const NAVY_TXT = "#2b3a68", PINK_TXT = "#d9a1b6";
const DOT_R = 4.8;

const svg = d3.select("#fig");

function txt(x, y, s, o) {
  const t = svg.append("text").attr("x", x).attr("y", y).text(s)
    .attr("font-family", o.family || HELV).attr("font-size", o.size)
    .attr("font-weight", o.weight || "normal").attr("fill", o.color || "#231f20")
    .attr("text-anchor", o.anchor || "middle");
  if (o.rotate) t.attr("transform", `rotate(${o.rotate},${x},${y})`);
  return t;
}

txt(12, 35, "A", {size: 32, anchor: "start"});
txt(447, 31, "B", {size: 32, anchor: "start"});

function linePanel(p) {
  const x = d3.scalePoint().domain(d3.range(5)).range([p.left, p.right]);
  const yA = d3.scaleLinear().domain(p.accRange).range([p.bottom, p.top]);
  const yR = d3.scaleLinear().domain(p.rtRange).range([p.bottom, p.top]);
  const g = svg.append("g");
  const mk = y => d3.line().x((d, i) => x(i)).y(d => y(d));
  g.append("g").selectAll("path").data(p.acc).join("path")
    .attr("d", mk(yA)).attr("fill", "none").attr("stroke", BLUE_LINE)
    .attr("stroke-width", 1.15).attr("stroke-opacity", 0.9);
  g.append("g").selectAll("path").data(p.rt).join("path")
    .attr("d", mk(yR)).attr("fill", "none").attr("stroke", RED_LINE)
    .attr("stroke-width", 1.15).attr("stroke-opacity", 0.9);

  const styleAxis = (sel, col) => {
    sel.select(".domain").attr("stroke", col).attr("stroke-width", 1.3);
    sel.selectAll(".tick line").attr("stroke", col).attr("stroke-width", 1.2);
    sel.selectAll(".tick text").attr("fill", col).attr("font-size", 11.5)
      .attr("font-family", HELV).attr("dy", "0.25em");
  };
  const aL = g.append("g").attr("transform", `translate(${p.left},0)`)
    .call(d3.axisLeft(yA).tickValues(p.accRange).tickSize(4).tickSizeOuter(0).tickPadding(3).tickFormat(d => String(d)));
  styleAxis(aL, BLUE_AXIS);
  const aR = g.append("g").attr("transform", `translate(${p.right},0)`)
    .call(d3.axisRight(yR).tickValues(p.rtRange).tickSize(4).tickSizeOuter(0).tickPadding(3).tickFormat(d => String(d)));
  styleAxis(aR, RED_AXIS);
  g.append("line").attr("x1", p.left).attr("x2", p.right).attr("y1", p.bottom).attr("y2", p.bottom)
    .attr("stroke", p.baseColor).attr("stroke-width", 1.6);

  txt((p.left + p.right) / 2 + 1, p.titleY, p.title, {size: 30, weight: "bold"});
  txt(p.condX[0], p.condY, p.conds[0], {size: p.condSize, family: HUM, color: "#231f20"});
  txt(p.condX[1], p.condY, p.conds[1], {size: p.condSize, family: HUM, color: "#231f20"});
  const cy = (p.top + p.bottom) / 2 + 3;
  txt(p.left - 10, cy, "Accuracy (predicted)", {size: 25, color: BLUE_LABEL, rotate: -90});
  txt(p.right + 24, cy, "logRT (predicted)", {size: 25, color: RED_LABEL, rotate: -90});
}

linePanel({left: 43.3, right: 278.3, top: 48.3, bottom: 363.3, accRange: tgtAccRange, rtRange: tgtRtRange,
  acc: tgtAccLines, rt: tgtRtLines, baseColor: "#111", title: "Target", titleY: 50,
  conds: targetConds, condX: [88, 229], condY: 393, condSize: 23});
linePanel({left: 43.3, right: 278.3, top: 492.7, bottom: 806.7, accRange: disAccRange, rtRange: disRtRange,
  acc: disAccLines, rt: disRtLines, baseColor: "#555", title: "Distractor", titleY: 492,
  conds: distractorConds, condX: [79, 247], condY: 835.5, condSize: 21.5});

function scatterPanel(p) {
  const x = d3.scaleLinear().domain([p.xTicks[0], p.xTicks[p.xTicks.length - 1]]).range([p.left, p.right]);
  const y = d3.scaleLinear().domain([p.yTicks[0], p.yTicks[p.yTicks.length - 1]]).range([p.bottom, p.top]);
  const g = svg.append("g");
  p.levels.forEach((pts, k) => {
    g.append("g").selectAll("circle").data(pts).join("circle")
      .attr("cx", d => x(d[0])).attr("cy", d => y(d[1])).attr("r", DOT_R)
      .attr("fill", levelColors[k]).attr("fill-opacity", 0.85);
  });
  g.append("path").datum(p.identity)
    .attr("d", d3.line().x(d => x(d)).y(d => y(d)))
    .attr("stroke", "#111").attr("stroke-width", 1.1).attr("fill", "none");

  const ends = arr => (d, i) => (i === 0 || i === arr.length - 1) ? String(d) : "";
  const ax = g.append("g").attr("transform", `translate(0,${p.bottom})`)
    .call(d3.axisBottom(x).tickValues(p.xTicks).tickSize(5).tickSizeOuter(0).tickPadding(8).tickFormat(ends(p.xTicks)));
  const ay = g.append("g").attr("transform", `translate(${p.left},0)`)
    .call(d3.axisLeft(y).tickValues(p.yTicks).tickSize(4).tickSizeOuter(0).tickPadding(6).tickFormat(ends(p.yTicks)));
  [ax, ay].forEach(a => {
    a.select(".domain").attr("stroke", "#111").attr("stroke-width", 1.3);
    a.selectAll(".tick line").attr("stroke", "#111").attr("stroke-width", 1.1);
    a.selectAll(".tick text").attr("fill", "#231f20").attr("font-size", 11.5).attr("font-family", HELV);
  });

  txt(p.titleX, p.titleY, p.title, {size: 30, weight: "bold"});
  txt(p.xLabelX, p.xLabelY, p.xLabel, {size: 25});
  txt(p.left - 17, (p.top + p.bottom) / 2 + 3, p.yLabel, {size: 25, rotate: -90});
  p.notes.forEach(n => txt(x(n.at[0]), y(n.at[1]), n.text, {size: 21, family: HUM, color: n.color}));
}

scatterPanel({left: 478.3, right: 799.3, top: 48.3, bottom: 363.3, xTicks: taTicksX, yTicks: taTicksY,
  levels: [taL1, taL2, taL3, taL4, taL5, taL6], identity: taIdentity,
  title: "Target Accuracy", titleX: 640, titleY: 50,
  xLabel: "Accuracy (observed)", xLabelX: 637, xLabelY: 389, yLabel: "Accuracy (predicted)",
  notes: [{text: "High Coherence", at: [0.0156, 0.109], color: PINK_TXT},
          {text: "Low Coherence", at: [-0.035, -0.154], color: NAVY_TXT}]});
scatterPanel({left: 885, right: 1205.7, top: 48.3, bottom: 362.7, xTicks: trTicksX, yTicks: trTicksY,
  levels: [trL1, trL2, trL3, trL4, trL5, trL6], identity: trIdentity,
  title: "Target RT", titleX: 1045, titleY: 50,
  xLabel: "logRT (observed)", xLabelX: 1044, xLabelY: 389, yLabel: "logRT (predicted)",
  notes: [{text: "Low Coherence", at: [0.102, 0.289], color: NAVY_TXT},
          {text: "High Coherence", at: [-0.005, -0.254], color: PINK_TXT}]});
scatterPanel({left: 478.3, right: 799.3, top: 491.7, bottom: 806.7, xTicks: daTicksX, yTicks: daTicksY,
  levels: [daL1, daL2, daL3, daL4, daL5, daL6], identity: daIdentity,
  title: "Distractor Accuracy", titleX: 638, titleY: 492,
  xLabel: "Accuracy (observed)", xLabelX: 637, xLabelY: 830, yLabel: "Accuracy (predicted)",
  notes: [{text: "Congruent", at: [0.045, 0.135], color: PINK_TXT},
          {text: "Incongruent", at: [-0.012, -0.157], color: NAVY_TXT}]});
scatterPanel({left: 885, right: 1205.7, top: 491.7, bottom: 806.7, xTicks: drTicksX, yTicks: drTicksY,
  levels: [drL1, drL2, drL3, drL4, drL5, drL6], identity: drIdentity,
  title: "Distractor RT", titleX: 1045, titleY: 492,
  xLabel: "logRT (observed)", xLabelX: 1044, xLabelY: 830, yLabel: "logRT (predicted)",
  notes: [{text: "Incongruent", at: [0.044, 0.186], color: NAVY_TXT},
          {text: "Congruent", at: [-0.047, -0.184], color: PINK_TXT}]});
</script>
</body></html>
